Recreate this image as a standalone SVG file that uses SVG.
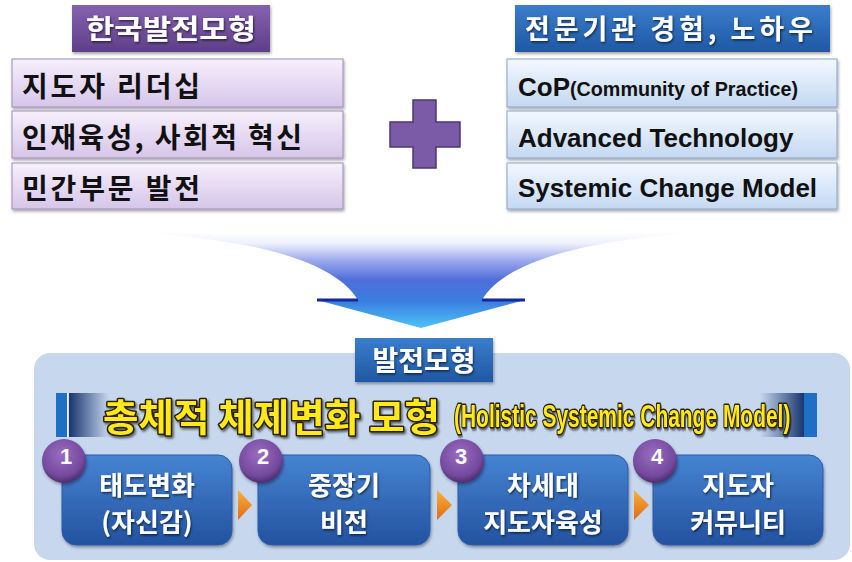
<svg xmlns="http://www.w3.org/2000/svg" width="852" height="562" viewBox="0 0 852 562">
<defs>
  <linearGradient id="gPurpleTitle" x1="0" y1="0" x2="0" y2="1">
    <stop offset="0" stop-color="#8562B0"/>
    <stop offset="1" stop-color="#5E3F88"/>
  </linearGradient>
  <linearGradient id="gBlueTitle" x1="0" y1="0" x2="0" y2="1">
    <stop offset="0" stop-color="#3A7DCC"/>
    <stop offset="1" stop-color="#1F58A4"/>
  </linearGradient>
  <linearGradient id="gLav" x1="0" y1="0" x2="0" y2="1">
    <stop offset="0" stop-color="#F6F0FB"/>
    <stop offset="1" stop-color="#D6C5EA"/>
  </linearGradient>
  <linearGradient id="gLightBlue" x1="0" y1="0" x2="0" y2="1">
    <stop offset="0" stop-color="#F3F8FF"/>
    <stop offset="1" stop-color="#C3D8F2"/>
  </linearGradient>
  <linearGradient id="gArrow" x1="0" y1="232" x2="0" y2="328" gradientUnits="userSpaceOnUse">
    <stop offset="0" stop-color="#FFFFFF"/>
    <stop offset="0.12" stop-color="#EEF0FC"/>
    <stop offset="0.3" stop-color="#9AA8EC"/>
    <stop offset="0.5" stop-color="#4F6ED9"/>
    <stop offset="0.72" stop-color="#3A7EE0"/>
    <stop offset="1" stop-color="#4CC4F6"/>
  </linearGradient>
  <linearGradient id="gStep" x1="0" y1="0" x2="0" y2="1">
    <stop offset="0" stop-color="#4684D2"/>
    <stop offset="1" stop-color="#2252A0"/>
  </linearGradient>
  <radialGradient id="gCircle" cx="0.45" cy="0.35" r="0.65">
    <stop offset="0" stop-color="#9A6CC0"/>
    <stop offset="0.75" stop-color="#744A9E"/>
    <stop offset="1" stop-color="#4E2C72"/>
  </radialGradient>
  <linearGradient id="gOrange" x1="0" y1="0" x2="0" y2="1">
    <stop offset="0" stop-color="#F8B040"/>
    <stop offset="1" stop-color="#E06C10"/>
  </linearGradient>
  <linearGradient id="gBandL" x1="0" y1="0" x2="1" y2="0">
    <stop offset="0" stop-color="#18356E"/>
    <stop offset="1" stop-color="#18356E" stop-opacity="0"/>
  </linearGradient>
  <linearGradient id="gBandR" x1="0" y1="0" x2="1" y2="0">
    <stop offset="0" stop-color="#18356E" stop-opacity="0"/>
    <stop offset="1" stop-color="#18356E"/>
  </linearGradient>
  <filter id="shadow" x="-10%" y="-10%" width="120%" height="140%">
    <feDropShadow dx="1" dy="2" stdDeviation="1.5" flood-color="#000" flood-opacity="0.35"/>
  </filter>
  <filter id="tshadow" x="-10%" y="-20%" width="120%" height="150%">
    <feDropShadow dx="1" dy="1.5" stdDeviation="0.8" flood-color="#000" flood-opacity="0.6"/>
  </filter>
  <filter id="yshadow" x="-5%" y="-20%" width="110%" height="150%">
    <feDropShadow dx="1.5" dy="2" stdDeviation="1.2" flood-color="#000" flood-opacity="0.55"/>
  </filter>
</defs>
<style>
  .kr { font-family: "Noto Sans CJK KR", "Liberation Sans", sans-serif; font-weight: bold; }
  .en { font-family: "Liberation Sans", Arial, sans-serif; font-weight: bold; }
  .white { fill: #FFFFFF; }
  .black { fill: #111111; }
  .lavbox { fill: url(#gLav); stroke: #9C8DB4; stroke-width: 1; }
  .bluebox { fill: url(#gLightBlue); stroke: #8AA3C6; stroke-width: 1; }
  .step { fill: url(#gStep); stroke: #2A5BA8; stroke-width: 1; }
  .num { font-family: "Liberation Sans", Arial, sans-serif; font-weight: bold; font-size: 22px; fill: #FFFFFF; text-anchor: middle; }
  .steptxt { font-size: 26px; text-anchor: middle; }
  .yellow { fill: #FFE81C; stroke: #2B2300; stroke-width: 3; paint-order: stroke; stroke-linejoin: round; }
</style>

<rect x="0" y="0" width="852" height="562" fill="#FFFFFF"/>

<!-- Korean development model -->
<g id="korea-title">
  <rect x="72" y="5" width="198" height="47" fill="url(#gPurpleTitle)" filter="url(#shadow)"/>
  <text x="171" y="39" class="kr white" font-size="27" text-anchor="middle" textLength="170" lengthAdjust="spacingAndGlyphs" filter="url(#tshadow)">한국발전모형</text>
</g>
<g id="korea-1">
  <rect x="12" y="59" width="331" height="48" class="lavbox" filter="url(#shadow)"/>
  <text x="22" y="97" class="kr black" font-size="28" textLength="178" lengthAdjust="spacing">지도자 리더십</text>
</g>
<g id="korea-2">
  <rect x="12" y="111" width="331" height="47" class="lavbox" filter="url(#shadow)"/>
  <text x="22" y="148" class="kr black" font-size="28" textLength="280" lengthAdjust="spacing">인재육성, 사회적 혁신</text>
</g>
<g id="korea-3">
  <rect x="12" y="163" width="331" height="46" class="lavbox" filter="url(#shadow)"/>
  <text x="22" y="199" class="kr black" font-size="28" textLength="178" lengthAdjust="spacing">민간부문 발전</text>
</g>

<!-- Expert institution -->
<g id="expert-title">
  <rect x="515" y="5" width="315" height="47" fill="url(#gBlueTitle)" filter="url(#shadow)"/>
  <text x="525" y="39" class="kr white" font-size="27" textLength="288" lengthAdjust="spacing" filter="url(#tshadow)">전문기관 경험, 노하우</text>
</g>
<g id="expert-1">
  <rect x="507" y="59" width="330" height="48" class="bluebox" filter="url(#shadow)"/>
  <text x="518" y="96" class="en black" font-size="26">CoP<tspan font-size="20" textLength="228" lengthAdjust="spacingAndGlyphs">(Community of Practice)</tspan></text>
</g>
<g id="expert-2">
  <rect x="507" y="111" width="330" height="47" class="bluebox" filter="url(#shadow)"/>
  <text x="518" y="147" class="en black" font-size="26">Advanced Technology</text>
</g>
<g id="expert-3">
  <rect x="507" y="163" width="330" height="46" class="bluebox" filter="url(#shadow)"/>
  <text x="518" y="197" class="en black" font-size="26">Systemic Change Model</text>
</g>

<!-- Development model panel -->
<g id="panel">
  <rect x="34" y="353" width="816" height="207" rx="16" fill="#C6D7EE"/>
</g>

<g id="panel-label">
  <rect x="355" y="338" width="138" height="44" fill="url(#gBlueTitle)" filter="url(#shadow)"/>
  <text x="424" y="371" class="kr white" font-size="28" text-anchor="middle" filter="url(#tshadow)">발전모형</text>
</g>

<g id="banner">
  <rect x="56" y="393" width="11" height="44" fill="#1E6FC6"/>
  <rect x="67" y="393" width="1.5" height="44" fill="#E8F0FA"/>
  <rect x="69" y="393" width="40" height="44" fill="url(#gBandL)"/>
  <rect x="760" y="393" width="44" height="44" fill="url(#gBandR)"/>
  <rect x="804" y="393" width="13" height="44" fill="#1E6FC6"/>
  <text x="103" y="431" class="kr yellow" font-size="38" font-weight="900" textLength="337" lengthAdjust="spacingAndGlyphs" filter="url(#yshadow)">총체적 체제변화 모형</text>
  <text transform="translate(454,427) scale(0.655,1)" x="0" y="0" class="en yellow" font-size="32" font-weight="normal" stroke-width="2.5" filter="url(#yshadow)">(Holistic Systemic Change Model)</text>
</g>

<!-- Steps -->
<g id="step-1">
  <rect x="62" y="455" width="170" height="90" rx="14" class="step" filter="url(#shadow)"/>
  <text x="147" y="495" class="kr white steptxt" filter="url(#tshadow)">태도변화</text>
  <text x="147" y="532" class="kr white steptxt" filter="url(#tshadow)">(자신감)</text>
  <circle cx="64" cy="461" r="22" fill="url(#gCircle)" filter="url(#shadow)"/>
  <text x="66" y="464" class="num">1</text>
</g>
<g id="step-2">
  <rect x="258" y="455" width="172" height="90" rx="14" class="step" filter="url(#shadow)"/>
  <text x="344" y="495" class="kr white steptxt" filter="url(#tshadow)">중장기</text>
  <text x="344" y="532" class="kr white steptxt" filter="url(#tshadow)">비전</text>
  <circle cx="261" cy="461" r="22" fill="url(#gCircle)" filter="url(#shadow)"/>
  <text x="263" y="464" class="num">2</text>
</g>
<g id="step-3">
  <rect x="458" y="455" width="170" height="90" rx="14" class="step" filter="url(#shadow)"/>
  <text x="543" y="495" class="kr white steptxt" filter="url(#tshadow)">차세대</text>
  <text x="543" y="532" class="kr white steptxt" filter="url(#tshadow)">지도자육성</text>
  <circle cx="462" cy="461" r="22" fill="url(#gCircle)" filter="url(#shadow)"/>
  <text x="461" y="464" class="num">3</text>
</g>
<g id="step-4">
  <rect x="653" y="455" width="170" height="90" rx="14" class="step" filter="url(#shadow)"/>
  <text x="738" y="495" class="kr white steptxt" filter="url(#tshadow)">지도자</text>
  <text x="738" y="532" class="kr white steptxt" filter="url(#tshadow)">커뮤니티</text>
  <circle cx="655" cy="461" r="22" fill="url(#gCircle)" filter="url(#shadow)"/>
  <text x="657" y="464" class="num">4</text>
</g>

<!-- Connectors -->
<g id="connectors">
  <path d="M413,100 H436 V122 H460 V147 H436 V168 H413 V147 H390 V122 H413 Z" fill="#7B5BA8" stroke="#4B3870" stroke-width="1.5"/>
  <path d="M133,232 L707,232 C580,240 505,262 482,300 L525,300 L421,328 L317,300 L358,300 C335,262 260,240 133,232 Z" fill="url(#gArrow)"/>
  <line x1="317" y1="300" x2="358" y2="300" stroke="#15299A" stroke-width="3"/>
  <line x1="482" y1="300" x2="525" y2="300" stroke="#15299A" stroke-width="3"/>
  <path d="M238,490 L252,505 L238,520 Z" fill="url(#gOrange)"/>
  <path d="M437,490 L452,505 L437,520 Z" fill="url(#gOrange)"/>
  <path d="M634,490 L649,505 L634,520 Z" fill="url(#gOrange)"/>
</g>
</svg>
